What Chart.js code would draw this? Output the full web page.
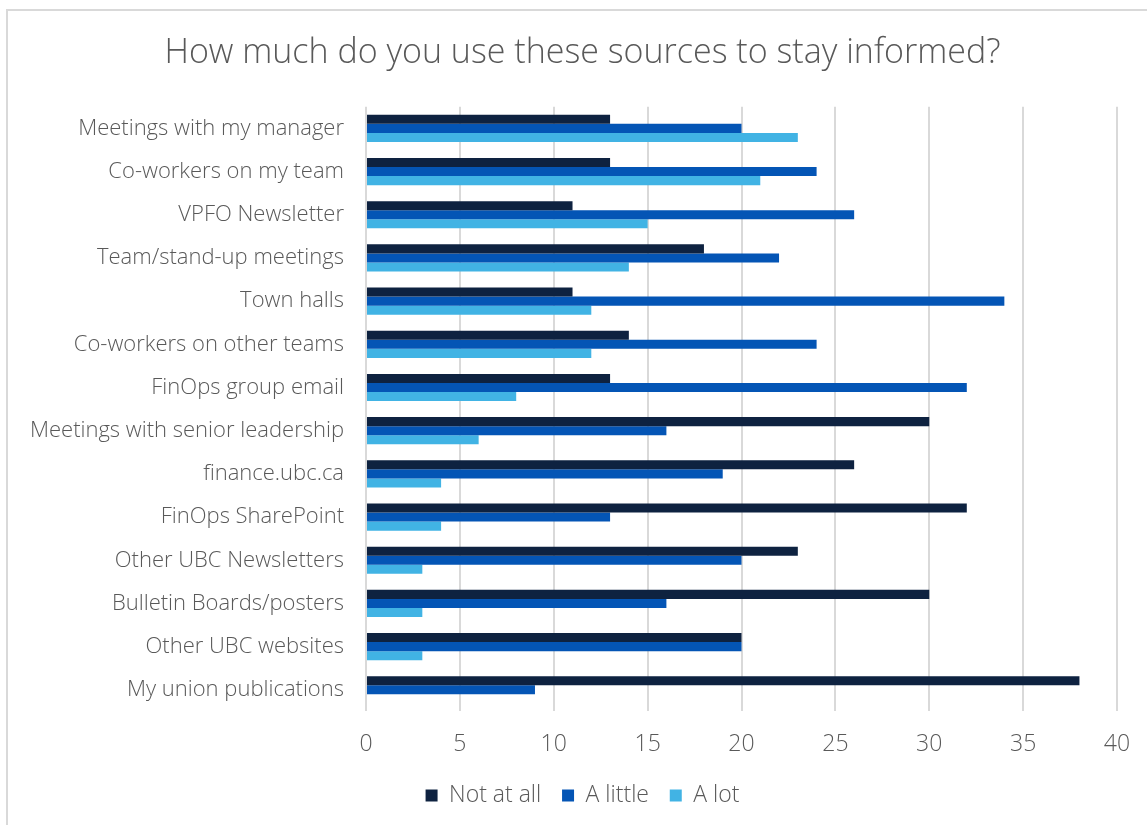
<!DOCTYPE html>
<html>
<head>
<meta charset="utf-8">
<script src="https://cdn.jsdelivr.net/npm/chart.js@4"></script>
<style>
  html, body { margin: 0; padding: 0; background: #fff; overflow: hidden; }
  #box {
    position: absolute; left: 6px; top: 9px;
    width: 1170px; height: 825px;
    border: 2px solid #d9d9d9; box-sizing: border-box;
  }
  #wrap { position: absolute; left: 0; top: 0; width: 1155px; height: 814px; }
</style>
</head>
<body>
<div id="box"><div id="wrap"><canvas id="myChart"></canvas></div></div>
<script>
const sources = [
	'Meetings with my manager', 'Co-workers on my team', 'VPFO Newsletter',
	'Team/stand-up meetings', 'Town halls', 'Co-workers on other teams',
	'FinOps group email', 'Meetings with senior leadership', 'finance.ubc.ca',
	'FinOps SharePoint', 'Other UBC Newsletters', 'Bulletin Boards/posters',
	'Other UBC websites', 'My union publications'
];
const notAtAll = [13, 13, 11, 18, 11, 14, 13, 30, 26, 32, 23, 30, 20, 38];
const aLittle  = [20, 24, 26, 22, 34, 24, 32, 16, 19, 13, 20, 16, 20, 9];
const aLot     = [23, 21, 15, 14, 12, 12, 8, 6, 4, 4, 3, 3, 3, 0];
const xTicks = [0, 5, 10, 15, 20, 25, 30, 35, 40];

const grey = '#595959';
const fontFam = "'Open Sans', sans-serif";

const ctx = document.getElementById('myChart').getContext('2d');
const sourcesChart = {
	type: 'bar',
	data: {
		labels: sources,
		datasets: [
			{ label: 'Not at all', data: notAtAll, backgroundColor: '#0e2240' },
			{ label: 'A little', data: aLittle, backgroundColor: '#0455b5' },
			{ label: 'A lot', data: aLot, backgroundColor: '#41b3e4' },
		],
	},
	options: {
		indexAxis: 'y',
		responsive: true,
		maintainAspectRatio: false,
		animation: false,
		datasets: {
			bar: { categoryPercentage: 0.63, barPercentage: 1.0 },
		},
		layout: { padding: { left: 40, right: 46, top: 12, bottom: 8 } },
		plugins: {
			title: {
				display: true,
				text: 'How much do you use these sources to stay informed?',
				color: grey,
				font: { family: fontFam, size: 34, weight: 300 },
				padding: { top: 10, bottom: 33 },
			},
			legend: {
				position: 'bottom',
				labels: {
					color: grey,
					font: { family: fontFam, size: 23, weight: 300 },
					boxWidth: 12, boxHeight: 12,
					padding: 7,
					// extra space after each entry, the padding alone is too tight
					generateLabels: (chart) => {
						const items = Chart.defaults.plugins.legend.labels.generateLabels(chart);
						items.forEach((it, i) => { if (i < items.length - 1) it.text += '\u2002\u200A'; });
						return items;
					},
				},
			},
			tooltip: { enabled: false },
		},
		scales: {
			x: {
				min: 0, max: 40,
				afterBuildTicks: (scale) => { scale.ticks = xTicks.map(v => ({ value: v })); },
				grid: { color: '#d9d9d9', lineWidth: 2, drawTicks: false },
				border: { display: false },
				ticks: {
					color: grey, padding: 19,
					font: { family: fontFam, size: 23, weight: 300 },
				},
			},
			y: {
				afterFit: (scale) => {
					scale.width = 318;
					// long labels run into the left padding, don't clip them
					scale._computeLabelArea = () => undefined;
				},
				grid: { display: false },
				border: { display: false },
				ticks: {
					color: grey, padding: 14, autoSkip: false,
					font: { family: fontFam, size: 22, weight: 300 },
				},
			},
		},
	},
};
new Chart(ctx, sourcesChart);
</script>
</body>
</html>
